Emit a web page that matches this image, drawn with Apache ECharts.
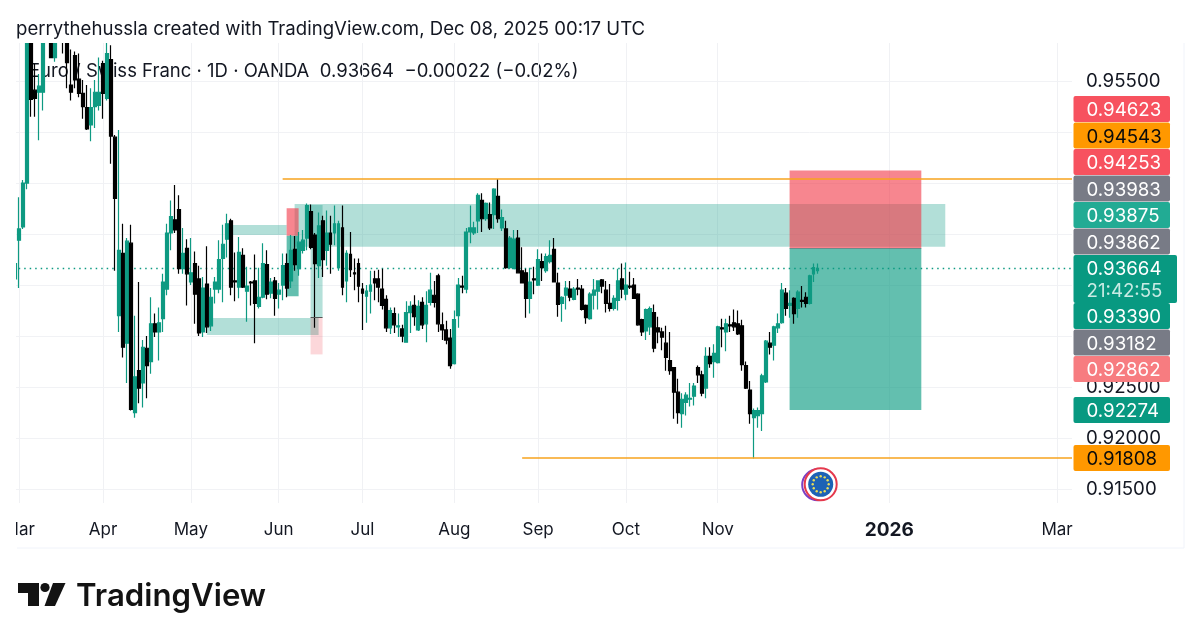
<!DOCTYPE html>
<html><head><meta charset="utf-8">
<style>html,body{margin:0;padding:0;background:#fff}#c{width:1200px;height:642px}</style>
<script src="https://cdn.jsdelivr.net/npm/echarts@6/dist/echarts.min.js"></script>
</head><body><div id="c"></div>
<script>
// ---- data ----
const firstDate = '2025-02-28';
const sessionCount = 266;
// [open, close, low, high], one row per weekday from firstDate
const ohlc = [
[.9356,.9371,.9356,.9371],[.9394,.9405,.9347,.9436],[.9407,.9450,.9405,.9453],[.9450,.9612,.9444,.9625],[.9590,.9532,.9515,.9605],[.9541,.9533,.9515,.9567],
[.9539,.9545,.9492,.9557],[.9539,.9590,.9521,.9600],[.9600,.9610,.9592,.9620],[.9600,.9573,.9573,.9610],[.9573,.9600,.9569,.9610],[.9600,.9605,.9590,.9615],
[.9605,.9590,.9577,.9612],[.9595,.9568,.9543,.9605],[.9546,.9539,.9531,.9581],[.9575,.9551,.9543,.9579],[.9552,.9538,.9534,.9577],[.9538,.9525,.9513,.9551],
[.9524,.9503,.9502,.9546],[.9507,.9524,.9491,.9543],[.9525,.9539,.9504,.9551],[.9526,.9539,.9521,.9573],[.9567,.9538,.9513,.9570],[.9533,.9577,.9531,.9590],
[.9571,.9496,.9469,.9585],[.9495,.9435,.9364,.9497],[.9320,.9384,.9304,.9502],[.9381,.9289,.9279,.9410],[.9293,.9393,.9254,.9396],[.9391,.9228,.9227,.9409],
[.9225,.9260,.9220,.9320],[.9266,.9249,.9234,.9353],[.9254,.9289,.9230,.9296],[.9288,.9271,.9239,.9300],[.9275,.9312,.9263,.9338],[.9312,.9304,.9299,.9322],
[.9304,.9313,.9276,.9328],[.9317,.9353,.9304,.9361],[.9346,.9401,.9340,.9410],[.9401,.9417,.9384,.9433],[.9414,.9404,.9401,.9448],[.9424,.9366,.9361,.9438],
[.9366,.9381,.9361,.9406],[.9386,.9361,.9330,.9395],[.9353,.9362,.9350,.9396],[.9371,.9341,.9312,.9383],[.9356,.9303,.9300,.9369],[.9304,.9347,.9299,.9358],
[.9351,.9309,.9303,.9388],[.9310,.9338,.9305,.9347],[.9346,.9353,.9332,.9358],[.9346,.9375,.9342,.9394],[.9376,.9390,.9333,.9409],[.9395,.9410,.9377,.9420],
[.9413,.9348,.9340,.9415],[.9354,.9353,.9334,.9382],[.9348,.9382,.9337,.9397],[.9379,.9348,.9347,.9386],[.9344,.9349,.9314,.9368],[.9353,.9352,.9330,.9354],
[.9354,.9332,.9293,.9380],[.9329,.9338,.9327,.9367],[.9338,.9371,.9337,.9391],[.9370,.9341,.9336,.9384],[.9342,.9353,.9337,.9357],[.9354,.9337,.9320,.9358],
[.9341,.9345,.9327,.9352],[.9350,.9369,.9335,.9381],[.9371,.9347,.9338,.9381],[.9354,.9384,.9347,.9399],[.9385,.9370,.9364,.9398],[.9366,.9392,.9359,.9402],
[.9384,.9394,.9381,.9404],[.9396,.9428,.9384,.9430],[.9422,.9387,.9385,.9429],[.9399,.9371,.9308,.9401],[.9369,.9408,.9357,.9421],[.9413,.9375,.9358,.9418],
[.9384,.9401,.9369,.9423],[.9401,.9390,.9361,.9418],[.9401,.9410,.9389,.9428],[.9367,.9410,.9364,.9413],[.9406,.9348,.9340,.9428],[.9354,.9381,.9333,.9384],
[.9380,.9365,.9358,.9402],[.9362,.9361,.9345,.9376],[.9371,.9349,.9333,.9376],[.9346,.9342,.9306,.9352],[.9339,.9344,.9313,.9350],[.9344,.9350,.9322,.9364],
[.9356,.9352,.9335,.9364],[.9356,.9348,.9333,.9365],[.9346,.9330,.9326,.9366],[.9336,.9308,.9304,.9340],[.9308,.9325,.9302,.9328],[.9322,.9311,.9303,.9328],
[.9309,.9310,.9299,.9322],[.9307,.9300,.9294,.9311],[.9294,.9323,.9294,.9334],[.9323,.9329,.9303,.9334],[.9330,.9319,.9310,.9340],[.9306,.9329,.9305,.9335],
[.9333,.9311,.9307,.9338],[.9312,.9330,.9294,.9344],[.9333,.9345,.9330,.9362],[.9340,.9333,.9328,.9354],[.9359,.9312,.9304,.9361],[.9311,.9306,.9296,.9323],
[.9306,.9296,.9292,.9315],[.9298,.9271,.9268,.9307],[.9273,.9316,.9272,.9325],[.9320,.9350,.9308,.9357],[.9349,.9348,.9342,.9359],[.9346,.9402,.9342,.9406],
[.9402,.9406,.9391,.9428],[.9401,.9406,.9399,.9412],[.9413,.9438,.9401,.9440],[.9433,.9415,.9402,.9440],[.9415,.9430,.9413,.9431],[.9419,.9406,.9404,.9431],
[.9419,.9444,.9405,.9445],[.9437,.9415,.9411,.9454],[.9406,.9416,.9403,.9424],[.9405,.9367,.9366,.9413],[.9367,.9396,.9366,.9398],[.9366,.9395,.9366,.9404],
[.9396,.9362,.9362,.9404],[.9364,.9352,.9352,.9387],[.9362,.9337,.9318,.9366],[.9337,.9353,.9322,.9367],[.9356,.9355,.9341,.9368],[.9350,.9375,.9349,.9385],
[.9373,.9367,.9354,.9381],[.9364,.9378,.9362,.9381],[.9373,.9379,.9371,.9394],[.9385,.9353,.9353,.9396],[.9352,.9331,.9319,.9362],[.9332,.9338,.9314,.9339],
[.9340,.9347,.9326,.9354],[.9346,.9338,.9334,.9354],[.9336,.9346,.9335,.9348],[.9347,.9346,.9340,.9356],[.9346,.9326,.9325,.9350],[.9330,.9318,.9312,.9331],
[.9317,.9341,.9316,.9343],[.9340,.9345,.9326,.9356],[.9344,.9354,.9326,.9354],[.9355,.9349,.9342,.9356],[.9345,.9332,.9323,.9354],[.9332,.9327,.9324,.9351],
[.9327,.9337,.9325,.9340],[.9335,.9354,.9325,.9366],[.9356,.9346,.9337,.9371],[.9341,.9350,.9335,.9372],[.9349,.9348,.9346,.9363],[.9350,.9337,.9337,.9357],
[.9341,.9311,.9310,.9342],[.9316,.9304,.9300,.9317],[.9305,.9326,.9296,.9327],[.9309,.9327,.9301,.9329],[.9323,.9288,.9284,.9331],[.9308,.9304,.9293,.9319],
[.9304,.9299,.9286,.9308],[.9293,.9279,.9266,.9310],[.9276,.9266,.9262,.9304],[.9269,.9245,.9219,.9269],[.9245,.9225,.9214,.9258],[.9224,.9238,.9210,.9244],
[.9235,.9242,.9222,.9245],[.9238,.9239,.9231,.9254],[.9241,.9251,.9232,.9254],[.9269,.9262,.9254,.9271],[.9262,.9244,.9241,.9266],[.9249,.9280,.9239,.9289],
[.9280,.9273,.9269,.9289],[.9275,.9283,.9259,.9292],[.9274,.9309,.9273,.9310],[.9308,.9307,.9289,.9317],[.9304,.9312,.9285,.9317],[.9311,.9310,.9304,.9320],
[.9313,.9309,.9305,.9326],[.9312,.9302,.9301,.9325],[.9310,.9272,.9266,.9316],[.9271,.9249,.9248,.9275],[.9247,.9224,.9214,.9256],[.9220,.9227,.9180,.9229],
[.9222,.9227,.9210,.9230],[.9224,.9261,.9207,.9263],[.9255,.9295,.9254,.9296],[.9293,.9289,.9282,.9304],[.9291,.9309,.9276,.9310],[.9308,.9312,.9303,.9322],
[.9313,.9345,.9312,.9352],[.9342,.9327,.9320,.9347],[.9330,.9332,.9318,.9345],[.9337,.9322,.9312,.9338],[.9327,.9343,.9318,.9345],[.9335,.9334,.9328,.9349],
[.9338,.9332,.9328,.9343],[.9332,.9359,.9331,.9360],[.9361,.9367,.9353,.9371],[.9364,.93664,.9361,.9371]
];
// x-axis labels keyed by the session that carries them
const xTickLabels = {'2025-03-03':'Mar','2025-04-01':'Apr','2025-05-01':'May','2025-06-02':'Jun','2025-07-01':'Jul','2025-08-01':'Aug','2025-09-01':'Sep','2025-10-01':'Oct','2025-11-03':'Nov','2026-01-01':'2026','2026-03-02':'Mar'};
const yGridValues = [0.915,0.92,0.925,0.93,0.935,0.94,0.945,0.95,0.955];
const yLabelValues = [0.915,0.92,0.925,0.955];
const lastPrice = 0.93664;
const lastChange = '−0.00022 (−0.02%)';
const countdown = '21:42:55';
const orangeLevels = [['2025-06-03',0.94543],['2025-08-26',0.91808]];
// rectangles: [from, to, price a, price b]
const zones = [['2025-06-06','2026-01-21',0.94294,0.93875],['2025-05-15','2025-06-04',0.94088,0.93990],['2025-05-07','2025-06-16',0.93176,0.93010]];
const stopBoxes = [['2025-11-27','2026-01-13',0.94623,0.93862],['2025-06-04','2025-06-09',0.94253,0.93983]];
const targetBoxes = [['2025-11-27','2026-01-13',0.93862,0.92274],['2025-06-04','2025-06-09',0.93983,0.93390]];
const faintTarget = ['2025-06-12','2025-06-17',0.94284,0.93182];
const faintStop = ['2025-06-12','2025-06-17',0.93182,0.92820];
// right-hand price tags: [text, kind]
const tagValues = ['0.94623','0.94543','0.94253','0.93983','0.93875','0.93862'];
const tagKinds  = ['red','orange','red','gray','teal','gray'];
const lowerTagValues = ['0.93390','0.93182','0.92862'];
const lowerTagKinds  = ['green','gray','pink'];
const looseTags = [['0.92274','green'],['0.91808','orange']];

// ---- styling ----
const FONT = 'Inter, "Noto Sans", sans-serif';
const INK = '#131722';
const tagFill = {red:'#F7525F',orange:'#FF9800',gray:'#787B86',teal:'#22AB94',green:'#089981',pink:'#F77C80'};
const GREEN = '#0E9A82', BLACK = '#000000';

function sessions(start, n){
  const out=[]; const d=new Date(start+'T00:00:00Z');
  while(out.length<n){ const w=d.getUTCDay(); if(w!==0&&w!==6) out.push(d.toISOString().slice(0,10)); d.setUTCDate(d.getUTCDate()+1); }
  return out;
}
const categories = sessions(firstDate, sessionCount);
const box = (b,color) => [{xAxis:b[0],yAxis:b[2],itemStyle:{color}},{xAxis:b[1],yAxis:b[3]}];

const TAG_X=1073.5, TAG_W=96.5, TAG_H=26;
const graphics=[];
function addText(x,y,text,style,z){ graphics.push({type:'text',x,y,z:z||0,silent:true,style:Object.assign({text,font:'400 18.7px '+FONT,fill:INK,textVerticalAlign:'middle'},style||{})}); }
function addTag(top,value,kind){
  graphics.push({type:'rect',z:60,silent:true,shape:{x:TAG_X,y:top,width:TAG_W,height:TAG_H,r:2},style:{fill:tagFill[kind]}});
  addText(1086.5,top+14.5,value,{fill:kind==='orange'?'#0b0b0b':'#ffffff'},61);
}
// masks at the plot's edges
graphics.push({type:'rect',z:40,silent:true,shape:{x:0,y:0,width:1200,height:43},style:{fill:'#fff'}});
graphics.push({type:'rect',z:50,silent:true,shape:{x:0,y:40,width:16,height:510},style:{fill:'#fff'}});
graphics.push({type:'rect',z:50,silent:true,shape:{x:1072,y:40,width:4,height:464},style:{fill:'#fff'}});
// header, legend
addText(16,29.5,'perrythehussla created with TradingView.com, Dec 08, 2025 00:17 UTC',{font:'400 18.6px '+FONT},45);
addText(29,71,'Euro / Swiss Franc · 1D · OANDA  '+lastPrice.toFixed(5)+'  '+lastChange,{font:'400 18.5px '+FONT},0);
// frame
graphics.push({type:'line',z:1,silent:true,shape:{x1:17,y1:548,x2:1184,y2:548},style:{stroke:'#F0F3FA',lineWidth:1}});
graphics.push({type:'line',z:1,silent:true,shape:{x1:1184,y1:40,x2:1184,y2:548},style:{stroke:'#F0F3FA',lineWidth:1}});
// tags
tagValues.forEach((v,k)=>addTag(96+k*26.5,v,tagKinds[k]));
graphics.push({type:'rect',z:60,silent:true,shape:{x:TAG_X,y:255,width:103.5,height:48,r:2},style:{fill:'#089981'}});
addText(1086.5,269.5,lastPrice.toFixed(5),{fill:'#fff'},61);
addText(1086.5,291,countdown,{fill:'#c9ebe4'},61);
lowerTagValues.forEach((v,k)=>addTag(303+k*26.5,v,lowerTagKinds[k]));
addTag(397,looseTags[0][0],looseTags[0][1]);
addTag(445,looseTags[1][0],looseTags[1][1]);
// event flag
const fx=820.7, fy=484.3;
graphics.push({type:'circle',z:55,silent:true,shape:{cx:fx-3,cy:fy+.5,r:15.5},style:{fill:'#fff',stroke:'#7B3FC4',lineWidth:2}});
graphics.push({type:'circle',z:55,silent:true,shape:{cx:fx,cy:fy,r:16},style:{fill:'#fff',stroke:'#E5394D',lineWidth:2}});
graphics.push({type:'circle',z:56,silent:true,shape:{cx:fx,cy:fy,r:12.5},style:{fill:'#1D62B5'}});
for(let a=0;a<12;a++){const t=a*Math.PI/6;graphics.push({type:'circle',z:57,silent:true,shape:{cx:fx+8*Math.cos(t),cy:fy+8*Math.sin(t),r:1.2},style:{fill:'#E8DC5A'}});}
// brand
graphics.push({type:'polygon',z:1,silent:true,shape:{points:[[18,583],[39,583],[39,606],[28,606],[28,593],[18,593]]},style:{fill:'#131313'}});
graphics.push({type:'circle',z:1,silent:true,shape:{cx:45,cy:587.5,r:4.6},style:{fill:'#131313'}});
graphics.push({type:'polygon',z:1,silent:true,shape:{points:[[53,583],[65.5,583],[55,606],[44.5,606]]},style:{fill:'#131313'}});
addText(76,596.5,'TradingView',{font:'600 31.2px '+FONT,fill:'#131313'},1);

const option = {
  animation:false, backgroundColor:'#fff',
  grid:{left:13.2,top:43,width:1061.8,height:460,containLabel:false},
  xAxis:{type:'category',data:categories,boundaryGap:true,
    axisLine:{show:false},axisTick:{show:false},splitLine:{show:false},
    axisLabel:{interval:(i,v)=>v in xTickLabels,hideOverlap:false,margin:18,fontFamily:FONT,fontSize:17,color:INK,
      formatter:v=>{const s=xTickLabels[v]||'';return /^\d{4}$/.test(s)?'{y|'+s+'}':s;},
      rich:{y:{fontWeight:700,fontFamily:FONT,fontSize:19,color:INK}}}},
  yAxis:{type:'value',position:'right',min:0.91363,max:0.95873,scale:true,
    axisLine:{show:false},
    axisTick:{show:false,customValues:yGridValues},
    splitLine:{show:true,lineStyle:{color:'#F1F2F5',width:1}},
    axisLabel:{customValues:yLabelValues,margin:11,fontFamily:FONT,fontSize:18.7,color:INK,padding:[3,0,0,0],formatter:v=>v.toFixed(5)}},
  graphic:{elements:graphics},
  series:[
    {name:'grid',type:'line',data:[],silent:true,z:0,
     markLine:{silent:true,z:0,precision:5,symbol:'none',animation:false,label:{show:false},
       lineStyle:{color:'#F0F1F4',width:1,type:'solid'},
       data:Object.keys(xTickLabels).map(d=>({xAxis:d})).concat([{yAxis:lastPrice,lineStyle:{color:GREEN,type:[1.5,4],width:1.4}}])}},
    {name:'EURCHF',type:'candlestick',data:ohlc,barWidth:3.4,z:3,silent:true,clip:true,
     itemStyle:{color:GREEN,color0:BLACK,borderColor:GREEN,borderColor0:BLACK,borderWidth:1.2},
     markArea:{silent:true,z:1,animation:false,label:{show:false},precision:5,
       data:[
         ...zones.map(b=>box(b,'rgba(30,160,140,0.34)')),
         ...stopBoxes.map(b=>box(b,'rgba(242,54,69,0.6)')),
         ...targetBoxes.map(b=>box(b,'rgba(8,153,129,0.63)')),
         box(faintTarget,'rgba(8,153,129,0.3)'),
         box(faintStop,'rgba(242,54,69,0.2)')
       ]},
     markLine:{silent:true,precision:5,symbol:'none',animation:false,label:{show:false},
       data:[
         ...orangeLevels.map(l=>[{xAxis:l[0],yAxis:l[1],lineStyle:{color:'#F7A31E',width:1.6,type:'solid'}},{xAxis:categories[categories.length-1],yAxis:l[1]}]),
         [{xAxis:stopBoxes[0][0],yAxis:stopBoxes[0][3],lineStyle:{color:'rgba(110,100,110,.55)',width:1,type:'solid'}},{xAxis:stopBoxes[0][1],yAxis:stopBoxes[0][3]}],
         [{xAxis:faintStop[0],yAxis:faintStop[2],lineStyle:{color:'#555',width:1,type:'solid'}},{xAxis:faintStop[1],yAxis:faintStop[2]}]
       ]}}
  ]
};
echarts.init(document.getElementById('c'),null,{renderer:'canvas'}).setOption(option);
</script></body></html>
